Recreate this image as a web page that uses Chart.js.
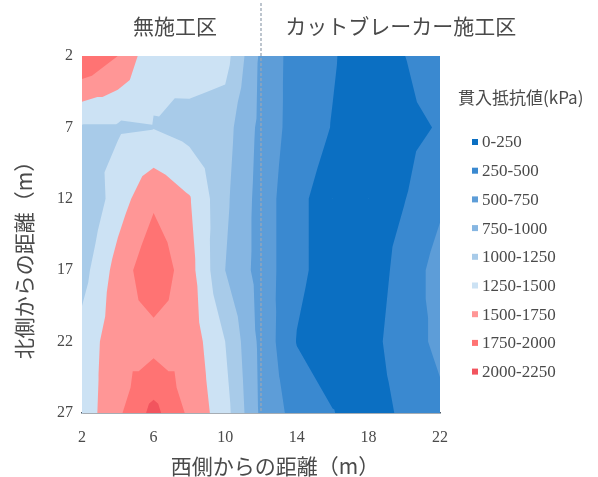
<!DOCTYPE html>
<html>
<head>
<meta charset="utf-8">
<script src="https://cdn.jsdelivr.net/npm/chart.js@4.4.1/dist/chart.umd.min.js"></script>
<style>
  html, body { margin: 0; padding: 0; background: #fff; }
  #wrap { width: 598px; height: 477px; }
</style>
</head>
<body>
<div id="wrap"><canvas id="chart"></canvas></div>
<script>
// grid of measuring points (m)
const xCoords = [2, 4, 6, 8, 10, 12, 14, 16, 18, 20, 22];
const yCoords = [2, 7, 12, 17, 22, 27];

// penetration resistance (kPa), one row per distance from the north side
const rowY2  = [2000, 1750, 1300, 1400, 1350, 700, 380, 270, 120, 245, 420];
const rowY7  = [1220, 1220, 1240, 1150, 1100, 680, 380, 240, 120, 180, 270];
const rowY12 = [1000, 1380, 1700, 1520, 1050, 650, 300, 150, 100, 240, 450];
const rowY17 = [1150, 1600, 1950, 1600, 1000, 650, 300, 150, 100, 350, 600];
const rowY22 = [1350, 1650, 1650, 1650, 1250, 680, 240, 100, 150, 400, 550];
const rowY27 = [1350, 1700, 2080, 1700, 1350, 700, 400, 260, 120, 300, 450];

const bandLower  = [0, 250, 500, 750, 1000, 1250, 1500, 1750, 2000];
const bandLabels = ['0-250', '250-500', '500-750', '750-1000', '1000-1250',
                    '1250-1500', '1500-1750', '1750-2000', '2000-2250'];
const bandColors = ['#0b6fc2', '#3a89d0', '#5d9dd8', '#86b6e2', '#a8cbe9',
                    '#cce2f4', '#ff9696', '#ff7373', '#f2545e'];

const xTicks = [2, 6, 10, 14, 18, 22];
const yTicks = [2, 7, 12, 17, 22, 27];

const boundaryX = 12;
const areaLabels = ['無施工区', 'カットブレーカー施工区'];

const grid = [rowY2, rowY7, rowY12, rowY17, rowY22, rowY27];

const textColor = '#4a4a4a';
const jpFont = "'Noto Sans CJK JP', 'Noto Sans', sans-serif";
const numFont = "'Liberation Serif', 'DejaVu Serif', serif";

// keep the part of a triangle where value >= level
function clipAbove(poly, level) {
    const out = [];
    for (let i = 0; i < poly.length; i++) {
        const a = poly[i], b = poly[(i + 1) % poly.length];
        const inA = a.v >= level, inB = b.v >= level;
        if (inA) out.push(a);
        if (inA !== inB) {
            const t = (level - a.v) / (b.v - a.v);
            out.push({ x: a.x + t * (b.x - a.x), y: a.y + t * (b.y - a.y), v: level });
        }
    }
    return out;
}

function buildTriangles() {
    const tris = [];
    for (let j = 0; j < yCoords.length - 1; j++) {
        for (let i = 0; i < xCoords.length - 1; i++) {
            const p00 = { x: xCoords[i], y: yCoords[j], v: grid[j][i] };
            const p10 = { x: xCoords[i + 1], y: yCoords[j], v: grid[j][i + 1] };
            const p11 = { x: xCoords[i + 1], y: yCoords[j + 1], v: grid[j + 1][i + 1] };
            const p01 = { x: xCoords[i], y: yCoords[j + 1], v: grid[j + 1][i] };
            const c = {
                x: (p00.x + p10.x) / 2,
                y: (p00.y + p01.y) / 2,
                v: (p00.v + p10.v + p11.v + p01.v) / 4
            };
            tris.push([p00, p10, c], [p10, p11, c], [p11, p01, c], [p01, p00, c]);
        }
    }
    return tris;
}
const triangles = buildTriangles();

const contourPlugin = {
    id: 'contour',
    beforeDatasetsDraw(chart) {
        const { ctx, chartArea, scales: { x, y } } = chart;
        ctx.save();
        ctx.beginPath();
        ctx.rect(chartArea.left, chartArea.top, chartArea.right - chartArea.left, chartArea.bottom - chartArea.top);
        ctx.clip();
        bandLower.forEach((level, k) => {
            ctx.beginPath();
            triangles.forEach(tri => {
                const poly = clipAbove(tri, level);
                if (poly.length < 3) return;
                poly.forEach((p, n) => {
                    const px = x.getPixelForValue(p.x), py = y.getPixelForValue(p.y);
                    if (n === 0) ctx.moveTo(px, py); else ctx.lineTo(px, py);
                });
                ctx.closePath();
            });
            ctx.fillStyle = bandColors[k];
            ctx.fill();
        });
        ctx.restore();
    },
    afterDraw(chart) {
        const { ctx, chartArea, scales: { x, y } } = chart;
        ctx.save();

        // boundary between the two sections
        const bx = x.getPixelForValue(boundaryX);
        ctx.strokeStyle = '#9aa7b4';
        ctx.lineWidth = 1.3;
        ctx.setLineDash([3, 2]);
        ctx.beginPath();
        ctx.moveTo(bx, 3);
        ctx.lineTo(bx, chartArea.bottom);
        ctx.stroke();
        ctx.setLineDash([]);

        // section labels
        ctx.fillStyle = textColor;
        ctx.font = `21px ${jpFont}`;
        ctx.textBaseline = 'middle';
        ctx.textAlign = 'center';
        ctx.fillText(areaLabels[0], x.getPixelForValue(7.2), 26);
        ctx.textAlign = 'left';
        ctx.fillText(areaLabels[1], x.getPixelForValue(13.35), 26);

        // axis titles
        ctx.textAlign = 'center';
        ctx.fillText('西側からの距離（m）', 275, 466);
        ctx.save();
        ctx.translate(24, 255);
        ctx.rotate(-Math.PI / 2);
        ctx.fillText('北側からの距離（m）', 0, 0);
        ctx.restore();

        // legend
        ctx.textAlign = 'left';
        ctx.font = `17px ${jpFont}`;
        ctx.fillText('貫入抵抗値(kPa)', 458, 98);
        ctx.font = `17px ${numFont}`;
        bandLabels.forEach((label, k) => {
            const cy = 142 + k * 28.7;
            ctx.fillStyle = bandColors[k];
            ctx.fillRect(472, cy - 3, 6, 6);
            ctx.fillStyle = textColor;
            ctx.fillText(label, 482, cy + 1);
        });
        ctx.restore();
    }
};

const gridPoints = [];
yCoords.forEach((yv, j) => xCoords.forEach((xv, i) => gridPoints.push({ x: xv, y: yv, v: grid[j][i] })));

new Chart(document.getElementById('chart'), {
    type: 'scatter',
    data: {
        datasets: [{
            label: '貫入抵抗値',
            data: gridPoints,
            pointRadius: 0,
            pointHoverRadius: 0
        }]
    },
    options: {
        responsive: true,
        maintainAspectRatio: false,
        animation: false,
        layout: { padding: { top: 56, right: 158, bottom: 0, left: 0 } },
        plugins: {
            legend: { display: false },
            tooltip: { enabled: false }
        },
        scales: {
            x: {
                type: 'linear',
                min: 2,
                max: 22,
                afterBuildTicks: s => { s.ticks = xTicks.map(v => ({ value: v })); },
                afterFit: s => { s.height = 64; },
                grid: { display: false, drawTicks: false },
                border: { display: true, color: '#4f5d6b', width: 1.5 },
                ticks: { color: textColor, padding: 15, font: { family: numFont, size: 16 } }
            },
            y: {
                type: 'linear',
                min: 2,
                max: 27,
                reverse: true,
                afterBuildTicks: s => { s.ticks = yTicks.map(v => ({ value: v })); },
                afterFit: s => { s.width = 82; },
                grid: { display: false, drawTicks: false },
                border: { display: true, color: '#a9bccb', width: 1 },
                ticks: { color: textColor, padding: 9, font: { family: numFont, size: 16 } }
            }
        }
    },
    plugins: [contourPlugin]
});
</script>
</body>
</html>
